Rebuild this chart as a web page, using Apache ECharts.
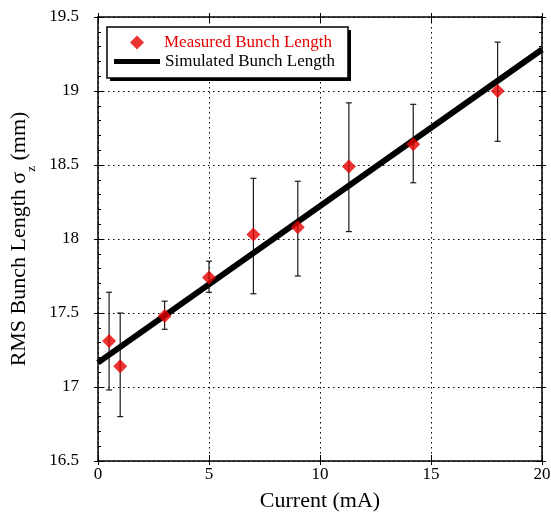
<!DOCTYPE html>
<html>
<head>
<meta charset="utf-8">
<script src="https://cdn.jsdelivr.net/npm/echarts@6/dist/echarts.min.js"></script>
<style>
  html, body { margin: 0; padding: 0; background: #fff; }
  #chart { width: 551px; height: 512px; }
</style>
</head>
<body>
<div id="chart"></div>
<script>
// 测量数据 (Current mA / bunch length mm)
const currents = [0.5, 1, 3, 5, 7, 9, 11.3, 14.2, 18]
const measured = [17.31, 17.14, 17.48, 17.74, 18.03, 18.08, 18.49, 18.64, 19.0]
const errLow = [16.98, 16.8, 17.39, 17.64, 17.63, 17.75, 18.05, 18.38, 18.66]
const errHigh = [17.64, 17.5, 17.58, 17.85, 18.41, 18.39, 18.92, 18.91, 19.33]
// 模拟直线
const simCurrents = [0, 20]
const simLength = [17.165, 19.28]

const font = 'Liberation Serif, Times New Roman, serif'
const red = '#e60000'

const errData = currents.map((x, i) => [x, errLow[i], errHigh[i]])
const measData = currents.map((x, i) => [x, measured[i]])
const simData = simCurrents.map((x, i) => [x, simLength[i]])

// 坐标轴基础设置
function xAx(pos, inside, show) {
  return {
    type: 'value',
    position: pos,
    min: 0,
    max: 20,
    interval: 5,
    axisLine: { show: show, onZero: false, lineStyle: { color: '#000', width: 1.5 } },
    axisTick: { show: true, inside: inside, length: inside ? 6 : 4, lineStyle: { color: '#000', width: 1 } },
    axisLabel: { show: false },
    splitLine: { show: false }
  }
}
function yAx(pos, inside, show) {
  return {
    type: 'value',
    position: pos,
    min: 16.5,
    max: 19.5,
    interval: 0.5,
    axisLine: { show: show, onZero: false, lineStyle: { color: '#000', width: 1.5 } },
    axisTick: { show: true, inside: inside, length: inside ? 6 : 4, lineStyle: { color: '#000', width: 1 } },
    minorTick: { show: inside, splitNumber: 5, length: 3, lineStyle: { color: '#000', width: 1 } },
    axisLabel: { show: false },
    splitLine: { show: false }
  }
}

const xMain = xAx('bottom', true, true)
xMain.axisLabel = { show: true, color: '#000', fontFamily: font, fontSize: 17, margin: 5 }
xMain.splitLine = { show: true, lineStyle: { color: '#000', width: 1, type: [1.5, 3.5] } }
xMain.name = 'Current (mA)'
xMain.nameLocation = 'middle'
xMain.nameGap = 29
xMain.nameTextStyle = { color: '#000', fontFamily: font, fontSize: 22 }

const yMain = yAx('left', true, true)
yMain.axisLabel = { show: true, color: '#000', fontFamily: font, fontSize: 17, margin: 19 }
yMain.splitLine = { show: true, lineStyle: { color: '#000', width: 1, type: [1.5, 3.5] } }
yMain.name = 'RMS Bunch Length σ{sub|z} (mm)'
yMain.nameLocation = 'middle'
yMain.nameGap = 46
yMain.nameTextStyle = {
  color: '#000',
  fontFamily: font,
  fontSize: 22,
  rich: {
    sub: { fontFamily: font, fontSize: 13, color: '#000', verticalAlign: 'bottom', padding: [0, 0, -8, 0] }
  }
}

const legendText = { fontFamily: font, fontSize: 17 }

const option = {
  animation: false,
  backgroundColor: '#fff',
  grid: { left: 98, right: 9, top: 17, bottom: 51, outerBoundsMode: 'none' },
  // 图例外框 + 阴影
  graphic: [
    { type: 'rect', z: 10, shape: { x: 110, y: 30, width: 241, height: 51 }, style: { fill: '#000' } },
    { type: 'rect', z: 11, shape: { x: 107, y: 27, width: 241, height: 51 }, style: { fill: '#fff', stroke: '#000', lineWidth: 1.5 } }
  ],
  legend: [
    {
      left: 130,
      top: 34,
      padding: 0,
      itemWidth: 14,
      itemHeight: 14,
      z: 20,
      textStyle: Object.assign({ color: red, padding: [0, 0, 0, 15] }, legendText),
      data: [{ name: 'Measured Bunch Length', icon: 'diamond' }]
    },
    {
      left: 114,
      top: 53,
      padding: 0,
      itemWidth: 46,
      itemHeight: 5,
      z: 20,
      textStyle: Object.assign({ color: '#000' }, legendText),
      data: [{ name: 'Simulated Bunch Length', icon: 'rect' }]
    }
  ],
  xAxis: [xMain, xAx('top', true, true), xAx('bottom', false, false), xAx('top', false, false)],
  yAxis: [yMain, yAx('right', true, true), yAx('left', false, false), yAx('right', false, false)],
  series: [
    {
      name: 'err',
      type: 'custom',
      z: 1,
      data: errData,
      encode: { x: 0, y: [1, 2] },
      renderItem: function (params, api) {
        const lo = api.coord([api.value(0), api.value(1)])
        const hi = api.coord([api.value(0), api.value(2)])
        const w = 3
        const st = { stroke: '#1a1a1a', lineWidth: 1.2 }
        return {
          type: 'group',
          children: [
            { type: 'line', shape: { x1: lo[0], y1: lo[1], x2: hi[0], y2: hi[1] }, style: st },
            { type: 'line', shape: { x1: lo[0] - w, y1: lo[1], x2: lo[0] + w, y2: lo[1] }, style: st },
            { type: 'line', shape: { x1: hi[0] - w, y1: hi[1], x2: hi[0] + w, y2: hi[1] }, style: st }
          ]
        }
      }
    },
    {
      name: 'Simulated Bunch Length',
      type: 'line',
      z: 2,
      data: simData,
      showSymbol: false,
      symbol: 'none',
      lineStyle: { color: '#000', width: 6 },
      itemStyle: { color: '#000' }
    },
    {
      name: 'Measured Bunch Length',
      type: 'scatter',
      z: 3,
      data: measData,
      symbol: 'diamond',
      symbolSize: 14,
      itemStyle: { color: red }
    }
  ]
}

const myChart = echarts.init(document.getElementById('chart'))
myChart.setOption(option)
</script>
</body>
</html>
